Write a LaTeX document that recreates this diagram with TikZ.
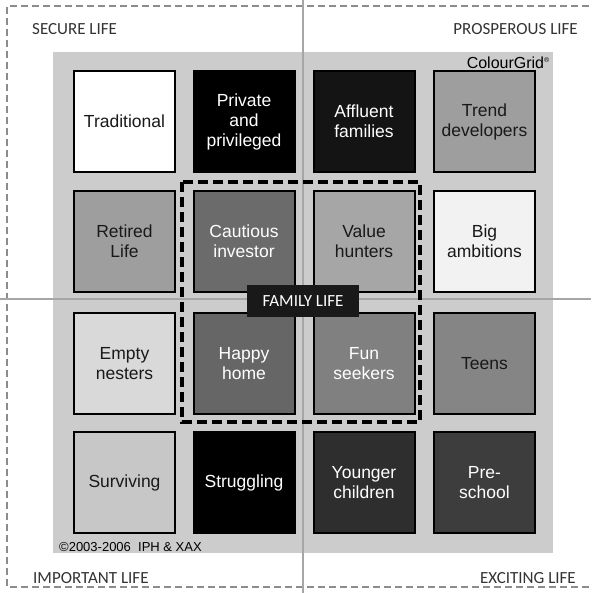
\documentclass[tikz,border=0pt]{standalone}
\usepackage{fontspec}
\setmainfont{Liberation Sans}
\newfontfamily\calib{Carlito}
\begin{document}
\begin{tikzpicture}[x=1pt,y=-1pt,
  cell/.style={draw=black, line width=2pt, minimum width=101pt, minimum height=101pt,
    inner sep=0pt, align=center, font=\fontsize{17.5}{20}\selectfont},
  dk/.style={cell, text=white},
  lt/.style={cell, text=black!90},
  corner/.style={font=\calib\fontsize{17}{20}\selectfont, text=black!80, inner sep=0pt},
  axis/.style={draw=black!35, line width=2pt},
  outer/.style={draw=black!45, line width=1.5pt, dash pattern=on 7pt off 4pt}
]
\useasboundingbox (0,0) rectangle (591,593);
\fill[white] (0,0) rectangle (591,593);
% outer dashed frame
\draw[outer] (600,6) -- (7,6) -- (7,587) -- (600,587);
% panel
\fill[black!20] (53,52) rectangle (553,553);
% axes
\draw[axis] (303,0) -- (303,593);
\draw[axis] (0,299) -- (591,299);
% corner labels
\node[corner, anchor=west] (sl) at (32,29) {SECURE LIFE};
\node[corner, anchor=east] (pl) at (578,29) {PROSPEROUS LIFE};
\node[corner, anchor=west] (il) at (33,578) {IMPORTANT LIFE};
\node[corner, anchor=east] (el) at (576,578) {EXCITING LIFE};
% cells
\node[lt, fill=white]     (c11) at (124.5,121.5) {Traditional};
\node[dk, fill=black]     (c12) at (244,121.5) {Private\\and\\privileged};
\node[dk, fill=black!92]  (c13) at (364,121.5) {Affluent\\families};
\node[lt, fill=black!38]  (c14) at (484.5,121.5) {Trend\\developers};
\node[lt, fill=black!38]  (c21) at (124.5,241.5) {Retired\\Life};
\node[dk, fill=black!58]  (c22) at (244,241.5) {Cautious\\investor};
\node[lt, fill=black!35]  (c23) at (364,241.5) {Value\\hunters};
\node[lt, fill=black!5]   (c24) at (484.5,241.5) {Big\\ambitions};
\node[lt, fill=black!15]  (c31) at (124.5,363.5) {Empty\\nesters};
\node[dk, fill=black!60]  (c32) at (244,363.5) {Happy\\home};
\node[dk, fill=black!50]  (c33) at (364,363.5) {Fun\\seekers};
\node[lt, fill=black!48]  (c34) at (484.5,363.5) {Teens};
\node[lt, fill=black!22]  (c41) at (124.5,482.5) {Surviving};
\node[dk, fill=black]     (c42) at (244,482.5) {Struggling};
\node[dk, fill=black!82]  (c43) at (364,482.5) {Younger\\children};
\node[dk, fill=black!76]  (c44) at (484.5,482.5) {Pre-\\school};
% family life dashed frame
\draw[line width=4pt, dash pattern=on 10pt off 5pt] (182,182) rectangle (420,422);
\node[fill=black!90, text=white, font=\calib\fontsize{17}{20}\selectfont,
  minimum width=112pt, minimum height=32pt, inner sep=0pt] (fam) at (303,301) {FAMILY LIFE};
% marks
\node[anchor=east, inner sep=0pt, font=\fontsize{16}{18}\selectfont] (cg) at (550,63) {ColourGrid\textsuperscript{\scriptsize\textregistered}};
\node[anchor=west, inner sep=0pt, font=\fontsize{13}{15}\selectfont] (cp) at (59,547) {\textcopyright2003-2006\ \ IPH \& XAX};
\end{tikzpicture}
\end{document}
